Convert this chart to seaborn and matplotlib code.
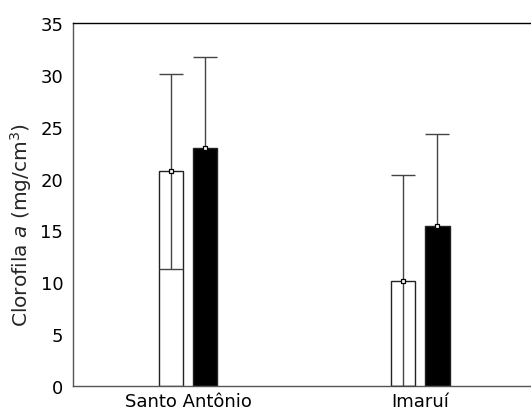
import numpy as np
import pandas as pd
import matplotlib
matplotlib.use("Agg")
import matplotlib.pyplot as plt
import seaborn as sns

sites = ["Santo Antônio", "Imaruí"]
groups = ["A", "B"]
means_a = [20.7, 10.1]
sd_a = [9.4, 10.2]
means_b = [22.9, 15.4]
sd_b = [8.8, 8.9]

df = pd.DataFrame({
    "site": sites * 2,
    "grupo": [groups[0]] * 2 + [groups[1]] * 2,
    "media": means_a + means_b,
    "sd": sd_a + sd_b,
})

sns.set_style("white")
plt.rcParams["font.family"] = ["DejaVu Sans"]
plt.rcParams["mathtext.fontset"] = "dejavusans"

fig = plt.figure(figsize=(5.31, 4.14), dpi=100)
ax = fig.add_axes([73 / 531, 27 / 414, 1 - 73 / 531, 363 / 414])

sns.barplot(data=df, x="site", y="media", hue="grupo", order=sites,
            hue_order=groups, palette=["white", "black"], width=0.30,
            gap=0.31, edgecolor="#222222", linewidth=1.0, errorbar=None,
            legend=False, ax=ax)

# error bars (mean +/- sd), lower end clipped at zero
for cont, g in zip(ax.containers, groups):
    sub = df[df["grupo"] == g].set_index("site").loc[sites]
    z = 4 if g == "A" else 0.5
    for bar, m, s in zip(cont, sub["media"], sub["sd"]):
        xc = bar.get_x() + bar.get_width() / 2
        lo = min(s, m)
        ax.errorbar(xc, m, yerr=[[lo], [s]], fmt="none", ecolor="#444444",
                    elinewidth=1.0, capsize=8.3, capthick=1.0, zorder=z)
        ax.plot(xc, m, marker="s", ms=3.5, mfc="white", mec="black",
                mew=0.9, zorder=5)

ax.set_xlim(-0.496, 1.478)
ax.set_ylim(0, 35)
ax.set_yticks(range(0, 36, 5))
ax.set_xlabel("")
ax.set_ylabel(r"Clorofila $\it{a}$ (mg/cm$^3$)", fontsize=14.5)
ax.yaxis.set_label_coords(-0.085, 0.446)
ax.tick_params(axis="both", length=0, labelsize=13, colors="black")
ax.tick_params(axis="y", pad=7)
ax.tick_params(axis="x", pad=4)

for side in ["left", "top", "bottom"]:
    ax.spines[side].set_visible(True)
    ax.spines[side].set_linewidth(1.0)
ax.spines["left"].set_color("#555555")
ax.spines["bottom"].set_color("#555555")
ax.spines["top"].set_color("black")
ax.spines["right"].set_visible(False)

fig.savefig("out.png", dpi=100)
